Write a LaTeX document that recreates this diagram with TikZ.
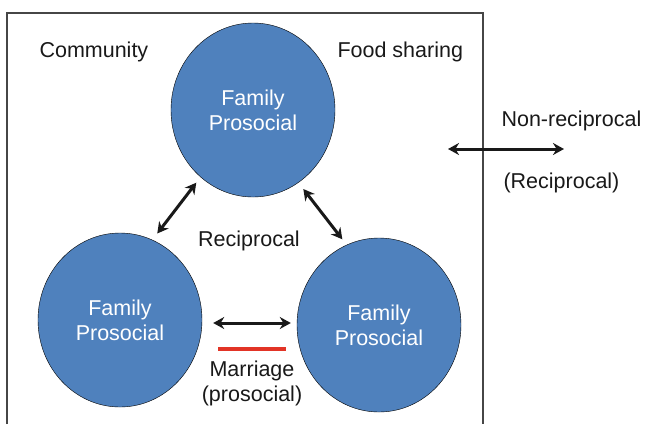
\documentclass[tikz,border=0pt]{standalone}
\usepackage{fontspec}
\setmainfont{Liberation Sans}
\usetikzlibrary{shapes.geometric,arrows.meta}
\definecolor{famblue}{RGB}{79,129,189}
\definecolor{marred}{RGB}{226,52,38}
\definecolor{boxgray}{RGB}{70,70,70}
\def\ffont{\fontsize{21.5}{25}\selectfont}

\begin{document}
\begin{tikzpicture}[x=1pt,y=-1pt,
    family/.style={ellipse,draw=black,fill=famblue,minimum width=164pt,
      minimum height=174pt,inner sep=0pt,text=white,align=center,font=\ffont},
    biarrow/.style={{Stealth[length=11pt,width=12pt]}-{Stealth[length=11pt,width=12pt]},
      line width=3pt,draw=black!90},
    plain/.style={text=black!90,align=center,font=\ffont}
    ]
    \useasboundingbox (0,0) rectangle (645,424);
    % community box, open at the bottom
    \draw[boxgray,line width=1.2pt] (7,424) -- (7,13) -- (483,13) -- (483,424);
    \node[plain,anchor=west] (comm) at (36,52) {Community};
    \node[plain,anchor=west] (food) at (334,52) {Food sharing};

    % families
    \node[family] (famtop) at (253,110) {Family\\Prosocial};
    \node[family] (famleft) at (120,320) {Family\\Prosocial};
    \node[family] (famright) at (379,325) {Family\\Prosocial};

    % reciprocal links
    \draw[biarrow,shorten <=8pt,shorten >=7pt] (famleft.68) -- (famtop.232);
    \draw[biarrow,shorten <=8pt,shorten >=7pt] (famtop.302) -- (famright.112);
    \node[plain] (recip) at (249,241) {Reciprocal};

    % marriage
    \draw[biarrow] ([shift={(11,3)}]famleft.east) -- ([shift={(-6,-2)}]famright.west);
    \draw[marred,line width=4pt] ([shift={(16,29)}]famleft.east) -- ([shift={(-11,24)}]famright.west);
    \node[plain] (marr) at (252,383) {Marriage\\(prosocial)};

    % legend
    \coordinate (nrl) at (448,149);
    \coordinate (nrr) at (564,149);
    \draw[biarrow] (nrl) -- (nrr);
    \node[plain,anchor=west] (nonrec) at (498,121) {Non-reciprocal};
    \node[plain,anchor=west] (rec) at (500,183) {(Reciprocal)};
\end{tikzpicture}
\end{document}
